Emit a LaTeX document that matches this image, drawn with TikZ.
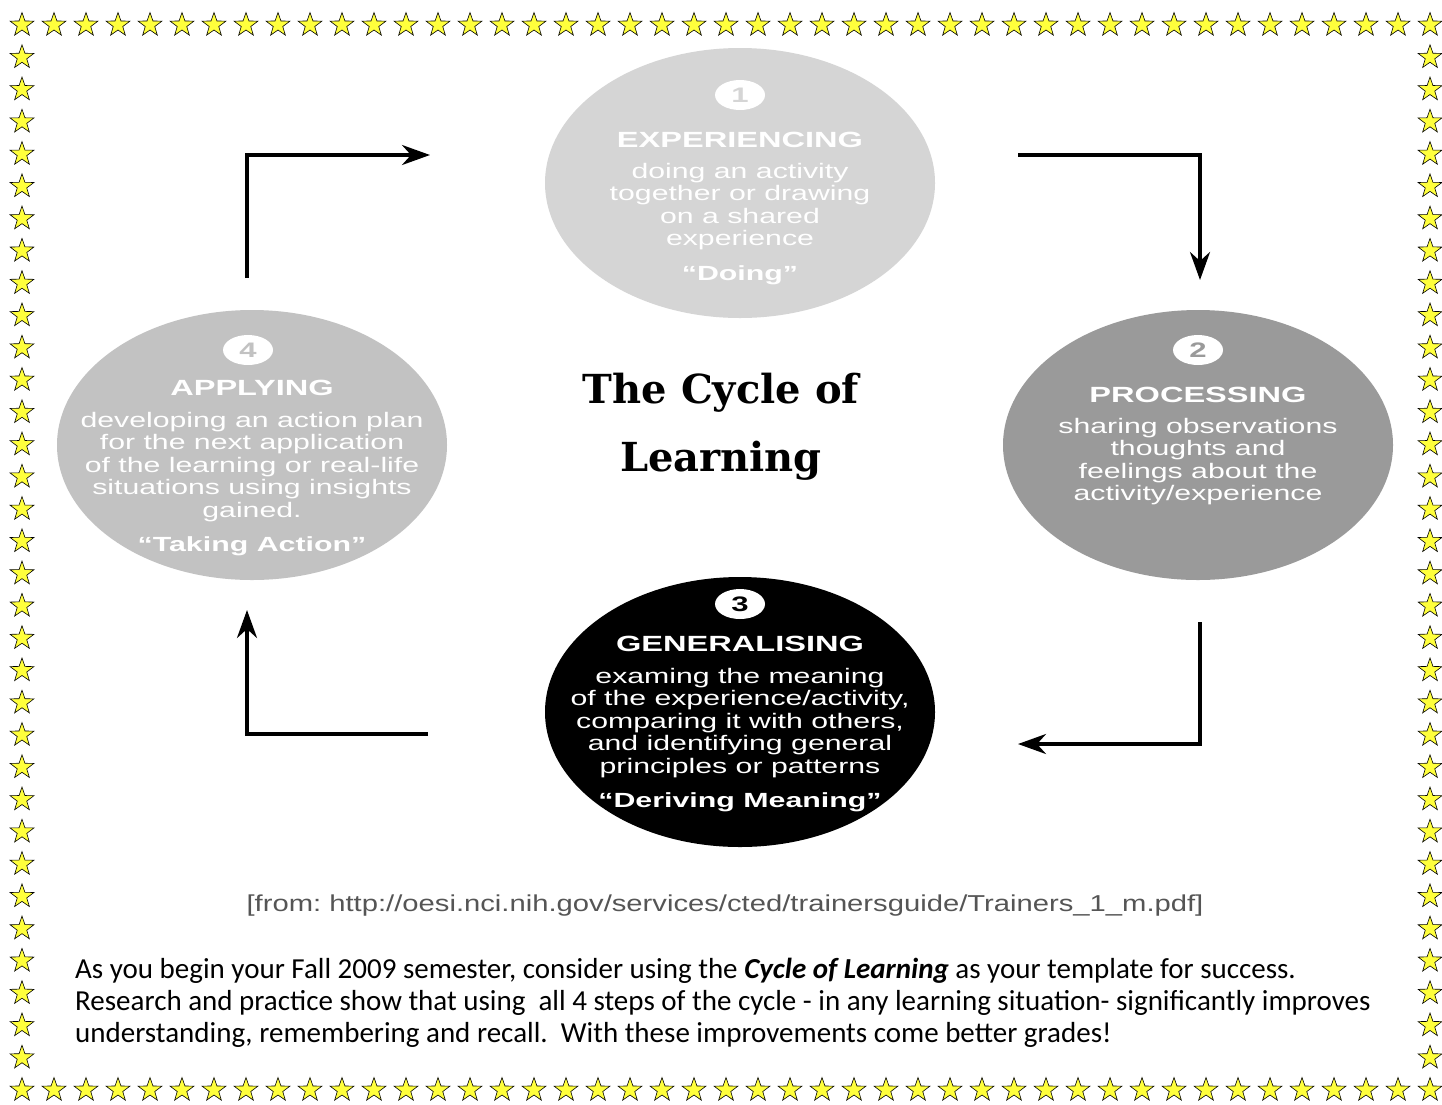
\documentclass[tikz,border=0pt]{standalone}
\usepackage{graphicx}
\usepackage{fontspec}
\setmainfont{Liberation Serif}
\setsansfont{Liberation Sans}
\newfontfamily\titlefont{DejaVu Serif}
\newfontfamily\notefont{Carlito}
\usetikzlibrary{shapes.geometric,arrows.meta}
\frenchspacing

\definecolor{expgray}{HTML}{D5D5D5}
\definecolor{procgray}{HTML}{9A9A9A}
\definecolor{applygray}{HTML}{C2C2C2}
\definecolor{urlgray}{HTML}{555555}
\definecolor{staryellow}{HTML}{FFFF3C}

\newcommand\widetext[1]{\scalebox{1.48}[1]{#1}}
\newcommand\lines[1]{\scalebox{1.44}[1]{\begin{tabular}{@{}c@{}}#1\end{tabular}}}

\begin{document}
\begin{tikzpicture}[x=1pt,y=-1pt]
  \tikzstyle{stage}=[ellipse, minimum width=390pt, minimum height=270pt, inner sep=0pt]
  \tikzstyle{badge}=[ellipse, fill=white, minimum width=50pt, minimum height=30pt, inner sep=0pt, font=\sffamily\bfseries\fontsize{21}{21}\selectfont]
  \tikzstyle{heading}=[text=white, inner sep=0pt, font=\sffamily\bfseries\fontsize{22}{22}\selectfont]
  \tikzstyle{tagline}=[text=white, inner sep=0pt, font=\sffamily\bfseries\fontsize{20.5}{20.5}\selectfont]
  \tikzstyle{body}=[text=white, inner sep=0pt, font=\sffamily\fontsize{21}{22.5}\selectfont]
  \tikzstyle{borderstar}=[star, star points=5, star point ratio=2.5, draw=black, fill=staryellow, line width=0.6pt, minimum size=25pt, inner sep=0pt]
  \tikzstyle{cycle}=[line width=3.5pt, -{Stealth[length=28pt, width=20pt, inset=9pt]}]
  \tikzstyle{note}=[anchor=base west, inner sep=0pt, font=\notefont\fontsize{29}{32}\selectfont]

  \useasboundingbox[fill=white] (0,0) rectangle (1442,1104);

  % star border
  \foreach \i in {0,...,44} {
    \node[borderstar] (top\i) at ({22+32*\i}, 25) {};
    \node[borderstar] (bot\i) at ({22+32*\i}, 1090) {};
  }
  \foreach \j in {1,...,32} {
    \node[borderstar] (left\j) at (22, {25+32.2727*\j}) {};
    \node[borderstar] (right\j) at (1430, {25+32.2727*\j}) {};
  }

  % the four stages
  \node (exp) at (740, 183) [stage, fill=expgray] {};
  \node (proc) at (1198, 445) [stage, fill=procgray] {};
  \node (gen) at (740, 712) [stage, fill=black] {};
  \node (appl) at (252, 445) [stage, fill=applygray] {};

  \node (exp-no) at (740, 95) [badge, text=expgray] {\widetext{1}};
  \node (exp-head) at (740, 140) [heading] {\widetext{EXPERIENCING}};
  \node (exp-body) at (740, 207.5) [body] {\lines{doing an activity\\together or drawing\\on a shared\\experience}};
  \node (exp-tag) at (740, 275) [tagline] {\widetext{“Doing”}};

  \node (proc-no) at (1198, 350) [badge, text=procgray] {\widetext{2}};
  \node (proc-head) at (1198, 395) [heading] {\widetext{PROCESSING}};
  \node (proc-body) at (1198, 462.5) [body] {\lines{sharing observations\\thoughts and\\feelings about the\\activity/experience}};

  \node (gen-no) at (740, 604) [badge, text=black] {\widetext{3}};
  \node (gen-head) at (740, 644) [heading] {\widetext{GENERALISING}};
  \node (gen-body) at (740, 723.5) [body] {\lines{examing the meaning\\of the experience/activity,\\comparing it with others,\\and identifying general\\principles or patterns}};
  \node (gen-tag) at (740, 802) [tagline] {\widetext{“Deriving Meaning”}};

  \node (appl-no) at (248, 350) [badge, text=applygray] {\widetext{4}};
  \node (appl-head) at (252, 388) [heading] {\widetext{APPLYING}};
  \node (appl-body) at (252, 467.5) [body] {\lines{developing an action plan\\for the next application\\of the learning or real-life\\situations using insights\\gained.}};
  \node (appl-tag) at (252, 546) [tagline] {\widetext{“Taking Action”}};

  % title
  \node (title) at (721, 427) [align=center, inner sep=0pt, font=\titlefont\bfseries\fontsize{40}{68}\selectfont] {The Cycle of\\Learning};

  % connectors
  \coordinate (a1) at (247, 278);
  \coordinate (a2) at (247, 155);
  \coordinate (a3) at (430, 155);
  \coordinate (b1) at (1018, 155);
  \coordinate (b2) at (1200, 155);
  \coordinate (b3) at (1200, 280);
  \coordinate (c1) at (1200, 622);
  \coordinate (c2) at (1200, 744);
  \coordinate (c3) at (1018, 744);
  \coordinate (d1) at (428, 734);
  \coordinate (d2) at (247, 734);
  \coordinate (d3) at (247, 610);
  \draw[cycle] (a1) -- (a2) -- (a3);
  \draw[cycle] (b1) -- (b2) -- (b3);
  \draw[cycle] (c1) -- (c2) -- (c3);
  \draw[cycle] (d1) -- (d2) -- (d3);

  % source and note
  \node (source) at (725, 906) [inner sep=0pt, text=urlgray, font=\sffamily\fontsize{23}{23}\selectfont] {\scalebox{1.27}[1]{[from: http://oesi.nci.nih.gov/services/cted/trainersguide/Trainers\_1\_m.pdf]}};

  \node (note1) at (75, 978) [note] {As you begin your Fall 2009 semester, consider using the \textbf{\textit{Cycle of Learning}} as your template for success.};
  \node (note2) at (75, 1010) [note] {Research and practice show that using\ \ all 4 steps of the cycle - in any learning situation- significantly improves};
  \node (note3) at (75, 1042) [note] {understanding, remembering and recall.\ \ With these improvements come better grades!};
\end{tikzpicture}
\end{document}
